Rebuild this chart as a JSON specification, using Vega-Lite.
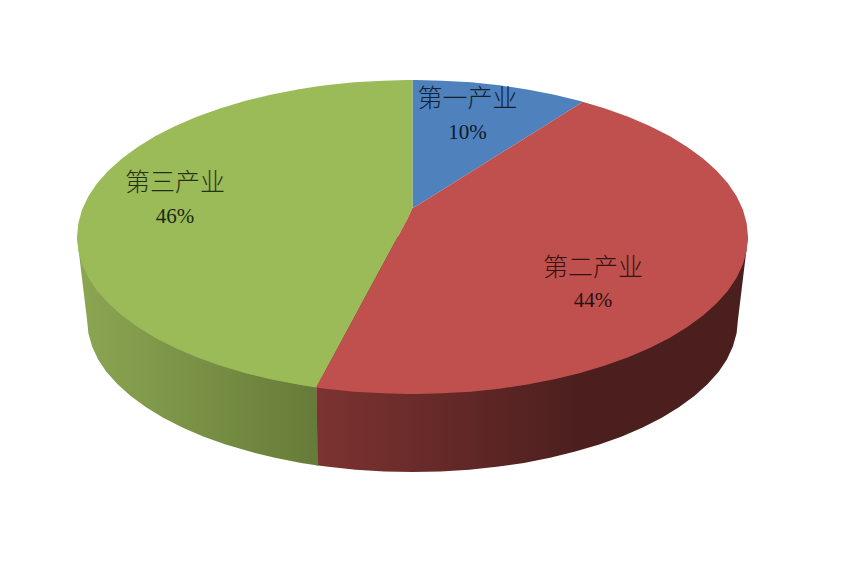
{
"$schema":"https://vega.github.io/schema/vega-lite/v6.json",
"width":845,"height":565,"padding":0,
"autosize":{"type":"fit","contains":"padding"},
"background":"white",
"config":{"view":{"stroke":null}},
"datasets":{
"redSide":[{"x":-0.287,"y":0,"y2":-1.454},{"x":-0.251,"y":0,"y2":-1.464},{"x":-0.169,"y":0,"y2":-1.482},{"x":-0.084,"y":0,"y2":-1.493},{"x":0,"y":0,"y2":-1.497},{"x":0.084,"y":0,"y2":-1.493},{"x":0.169,"y":0,"y2":-1.482},{"x":0.251,"y":0,"y2":-1.464},{"x":0.332,"y":0,"y2":-1.439},{"x":0.41,"y":0,"y2":-1.406},{"x":0.485,"y":0,"y2":-1.367},{"x":0.557,"y":0,"y2":-1.322},{"x":0.624,"y":0,"y2":-1.271},{"x":0.686,"y":0,"y2":-1.213},{"x":0.743,"y":0,"y2":-1.151},{"x":0.794,"y":0,"y2":-1.085},{"x":0.84,"y":0,"y2":-1.013},{"x":0.879,"y":0,"y2":-0.938},{"x":0.912,"y":0,"y2":-0.86},{"x":0.937,"y":0,"y2":-0.78},{"x":0.955,"y":0,"y2":-0.697},{"x":0.966,"y":0,"y2":-0.613},{"x":0.97,"y":0,"y2":-0.529},{"x":1,"y":0,"y2":0}],
"greenSide":[{"x":-1,"y":0,"y2":0},{"x":-0.97,"y":0,"y2":-0.529},{"x":-0.966,"y":0,"y2":-0.613},{"x":-0.955,"y":0,"y2":-0.697},{"x":-0.937,"y":0,"y2":-0.78},{"x":-0.912,"y":0,"y2":-0.86},{"x":-0.879,"y":0,"y2":-0.938},{"x":-0.84,"y":0,"y2":-1.013},{"x":-0.794,"y":0,"y2":-1.085},{"x":-0.743,"y":0,"y2":-1.151},{"x":-0.686,"y":0,"y2":-1.213},{"x":-0.624,"y":0,"y2":-1.271},{"x":-0.557,"y":0,"y2":-1.322},{"x":-0.485,"y":0,"y2":-1.367},{"x":-0.41,"y":0,"y2":-1.406},{"x":-0.332,"y":0,"y2":-1.439},{"x":-0.287,"y":-0.958,"y2":-1.454},{"x":-0.281,"y":-1.455,"y2":-1.455}],
"blue":[{"x":0,"y":1,"y2":0.185},{"x":0.012,"y":1,"y2":0.197},{"x":0.087,"y":0.996,"y2":0.297},{"x":0.174,"y":0.985,"y2":0.414},{"x":0.259,"y":0.966,"y2":0.528},{"x":0.342,"y":0.94,"y2":0.639},{"x":0.423,"y":0.906,"y2":0.747},{"x":0.5,"y":0.866,"y2":0.85},{"x":0.507,"y":0.862,"y2":0.86}],
"red":[{"x":-0.287,"y":-0.958,"y2":-0.958},{"x":-0.259,"y":-0.966,"y2":-0.848},{"x":-0.174,"y":-0.985,"y2":-0.512},{"x":-0.087,"y":-0.996,"y2":-0.169},{"x":-0.015,"y":-1,"y2":0.115},{"x":0,"y":-1,"y2":0.185},{"x":0.012,"y":-1,"y2":0.197},{"x":0.087,"y":-0.996,"y2":0.297},{"x":0.174,"y":-0.985,"y2":0.414},{"x":0.259,"y":-0.966,"y2":0.528},{"x":0.342,"y":-0.94,"y2":0.639},{"x":0.423,"y":-0.906,"y2":0.747},{"x":0.5,"y":-0.866,"y2":0.85},{"x":0.507,"y":-0.862,"y2":0.862},{"x":0.574,"y":-0.819,"y2":0.819},{"x":0.643,"y":-0.766,"y2":0.766},{"x":0.707,"y":-0.707,"y2":0.707},{"x":0.766,"y":-0.643,"y2":0.643},{"x":0.819,"y":-0.574,"y2":0.574},{"x":0.866,"y":-0.5,"y2":0.5},{"x":0.906,"y":-0.423,"y2":0.423},{"x":0.94,"y":-0.342,"y2":0.342},{"x":0.966,"y":-0.259,"y2":0.259},{"x":0.985,"y":-0.174,"y2":0.174},{"x":0.996,"y":-0.087,"y2":0.087},{"x":1,"y":0,"y2":0}],
"green":[{"x":-1,"y":0,"y2":0},{"x":-0.996,"y":0.087,"y2":-0.087},{"x":-0.985,"y":0.174,"y2":-0.174},{"x":-0.966,"y":0.259,"y2":-0.259},{"x":-0.94,"y":0.342,"y2":-0.342},{"x":-0.906,"y":0.423,"y2":-0.423},{"x":-0.866,"y":0.5,"y2":-0.5},{"x":-0.819,"y":0.574,"y2":-0.574},{"x":-0.766,"y":0.643,"y2":-0.643},{"x":-0.707,"y":0.707,"y2":-0.707},{"x":-0.643,"y":0.766,"y2":-0.766},{"x":-0.574,"y":0.819,"y2":-0.819},{"x":-0.5,"y":0.866,"y2":-0.866},{"x":-0.423,"y":0.906,"y2":-0.906},{"x":-0.342,"y":0.94,"y2":-0.94},{"x":-0.287,"y":0.958,"y2":-0.958},{"x":-0.259,"y":0.966,"y2":-0.848},{"x":-0.174,"y":0.985,"y2":-0.512},{"x":-0.087,"y":0.996,"y2":-0.169},{"x":-0.015,"y":1,"y2":0.115},{"x":0,"y":1,"y2":0.185}],
"labels":[{"name":"第一产业","x":0.164,"y":0.877,"pct":"10%","yp":0.662},{"name":"第二产业","x":0.538,"y":-0.197,"pct":"44%","yp":-0.408},{"name":"第三产业","x":-0.708,"y":0.344,"pct":"46%","yp":0.127}]
},
"encoding":{
"x":{"field":"x","type":"quantitative","axis":null,"scale":{"domain":[-1.2295,1.2891],"nice":false,"zero":false}},
"y":{"field":"y","type":"quantitative","axis":null,"scale":{"domain":[-2.0892,1.5096],"nice":false,"zero":false}}
},
"layer":[
{"data":{"name":"redSide"},"mark":{"type":"area","color":{"gradient":"linear","x1":0,"x2":1,"y1":0,"y2":0,"stops":[{"offset":0,"color":"#7c3331"},{"offset":0.61,"color":"#4c1f1e"},{"offset":1,"color":"#4b1f1e"}]}},"encoding":{"y2":{"field":"y2"}}},
{"data":{"name":"greenSide"},"mark":{"type":"area","color":{"gradient":"linear","x1":0,"x2":1,"y1":0,"y2":0,"stops":[{"offset":0,"color":"#8ca653"},{"offset":1,"color":"#667b38"}]}},"encoding":{"y2":{"field":"y2"}}},
{"data":{"name":"blue"},"mark":{"type":"area","color":"#4f81bd"},"encoding":{"y2":{"field":"y2"}}},
{"data":{"name":"green"},"mark":{"type":"area","color":"#9bbb59"},"encoding":{"y2":{"field":"y2"}}},
{"data":{"name":"red"},"mark":{"type":"area","color":"#c0504d"},"encoding":{"y2":{"field":"y2"}}},
{"data":{"name":"labels"},"mark":{"type":"text","font":"Noto Sans CJK SC","fontSize":25,"fontWeight":300,"color":"#000000","opacity":0.75,"align":"center","baseline":"middle"},"encoding":{"text":{"field":"name"}}},
{"data":{"name":"labels"},"mark":{"type":"text","font":"Liberation Serif","fontSize":21,"color":"#000000","opacity":0.8,"align":"center","baseline":"middle"},"encoding":{"y":{"field":"yp","type":"quantitative"},"text":{"field":"pct"}}}
]
}
